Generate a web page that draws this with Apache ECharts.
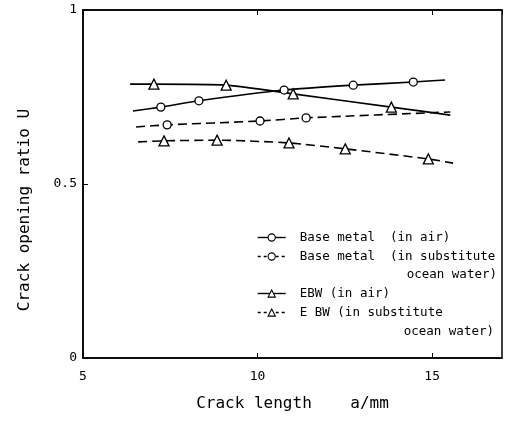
<!DOCTYPE html>
<html>
<head>
<meta charset="utf-8">
<script src="https://cdn.jsdelivr.net/npm/echarts@6/dist/echarts.min.js"></script>
<style>
html,body{margin:0;padding:0;background:#fff;}
#c{width:508px;height:422px;}
</style>
</head>
<body>
<div id="c"></div>
<script>
// ---- data ----
const xTicks = [5, 10, 15];
const yTicks = [0, 0.5, 1];

const baseAirX = [6.43, 7.23, 8.32, 10.76, 12.74, 14.46, 15.37];
const baseAirY = [0.710, 0.721, 0.739, 0.770, 0.784, 0.793, 0.799];
const baseAirMark = [0, 1, 1, 1, 1, 1, 0];

const baseWaterX = [6.52, 7.41, 10.07, 11.39, 15.52];
const baseWaterY = [0.664, 0.670, 0.681, 0.690, 0.707];
const baseWaterMark = [0, 1, 1, 1, 0];

const ebwAirX = [6.35, 7.03, 9.10, 11.02, 13.83, 15.52];
const ebwAirY = [0.787, 0.787, 0.784, 0.759, 0.721, 0.698];
const ebwAirMark = [0, 1, 1, 1, 1, 0];

const ebwWaterX = [6.58, 7.32, 8.84, 10.90, 12.51, 14.89, 15.60];
const ebwWaterY = [0.621, 0.624, 0.626, 0.618, 0.601, 0.572, 0.560];
const ebwWaterMark = [0, 1, 1, 1, 1, 1, 0];

const seriesNames = [
  'Base metal  (in air)',
  'Base metal  (in substitute ocean water)',
  'EBW (in air)',
  'EBW (in substitute ocean water)'
];
const seriesDashed = [false, true, false, true];
const legendFirstLines = {
  'Base metal  (in air)': 'Base metal  (in air)',
  'Base metal  (in substitute ocean water)': 'Base metal  (in substitute',
  'EBW (in air)': 'EBW (in air)',
  'EBW (in substitute ocean water)': 'E BW (in substitute'
};
const secondLine = 'ocean water)';

// ---- build ----
const FONT = 'DejaVu Sans Mono';
function build(xs, ys, marks) {
  return xs.map((x, i) => marks[i] ? [x, ys[i]] : { value: [x, ys[i]], symbol: 'none' });
}
function mk(name, xs, ys, marks, dashed, symbol) {
  return {
    name, type: 'line', xAxisIndex: 0, yAxisIndex: 0,
    data: build(xs, ys, marks),
    smooth: 0.2,
    symbol, symbolSize: symbol === 'circle' ? 8 : 10,
    showAllSymbol: true,
    lineStyle: { color: '#000', width: 1.6, type: dashed ? [9, 5] : 'solid' },
    itemStyle: { color: '#fff', borderColor: '#000', borderWidth: 1.3 },
    emphasis: { disabled: true },
    animation: false
  };
}
function legendItem(i) {
  return { name: seriesNames[i], lineStyle: { type: seriesDashed[i] ? [3, 3] : 'solid', width: 1.4, color: '#000' },
           itemStyle: { color: '#fff', borderColor: '#000', borderWidth: 1.1 } };
}

const chart = echarts.init(document.getElementById('c'), null, { renderer: 'canvas' });
const legendCommon = {
  orient: 'vertical', left: 257, padding: 0,
  itemWidth: 28, itemHeight: 9, itemGap: 6,
  formatter: n => legendFirstLines[n],
  textStyle: { fontFamily: FONT, fontSize: 12.5, color: '#000', padding: [0, 0, 0, 9] },
  selectedMode: false
};
chart.setOption({
  backgroundColor: '#fff',
  animation: false,
  grid: { left: 83, right: 6, top: 10, bottom: 64, show: true, borderColor: '#000', borderWidth: 1.5 },
  legend: [
    Object.assign({}, legendCommon, { top: 231, data: [legendItem(0), legendItem(1)] }),
    Object.assign({}, legendCommon, { top: 287, data: [legendItem(2), legendItem(3)] })
  ],
  graphic: [
    { type: 'text', right: 11, top: 268, style: { text: secondLine, font: '12.5px "' + FONT + '"', fill: '#000' } },
    { type: 'text', right: 14, top: 325, style: { text: secondLine, font: '12.5px "' + FONT + '"', fill: '#000' } }
  ],
  xAxis: [{
    type: 'value', min: 5, max: 17, interval: 5, position: 'bottom',
    name: 'Crack length    a/mm', nameLocation: 'middle', nameGap: 38,
    nameTextStyle: { fontFamily: FONT, fontSize: 16, color: '#000' },
    axisLine: { show: true, lineStyle: { color: '#000', width: 1.5 } },
    axisTick: { show: true, inside: true, length: 5, lineStyle: { color: '#000', width: 1 } },
    axisLabel: { fontFamily: FONT, fontSize: 13, color: '#000', margin: 12, showMaxLabel: false,
      formatter: v => xTicks.includes(v) ? String(v) : '' },
    splitLine: { show: false }
  }, {
    type: 'value', min: 5, max: 17, interval: 5, position: 'top',
    axisLine: { show: true, lineStyle: { color: '#000', width: 1.5 } },
    axisTick: { show: true, inside: true, length: 5, lineStyle: { color: '#000', width: 1 } },
    axisLabel: { show: false }, splitLine: { show: false }
  }],
  yAxis: [{
    type: 'value', min: 0, max: 1, interval: 0.5,
    name: 'Crack opening ratio U', nameLocation: 'middle', nameGap: 50, nameRotate: 90,
    nameTextStyle: { fontFamily: FONT, fontSize: 16, color: '#000', padding: [0, 52, 0, 0] },
    axisLine: { show: true, lineStyle: { color: '#000', width: 1.5 } },
    axisTick: { show: true, inside: true, length: 5, lineStyle: { color: '#000', width: 1 } },
    axisLabel: { fontFamily: FONT, fontSize: 13, color: '#000', margin: 6,
      formatter: v => yTicks.includes(v) ? String(v) : '' },
    splitLine: { show: false }
  }],
  series: [
    mk(seriesNames[0], baseAirX, baseAirY, baseAirMark, seriesDashed[0], 'circle'),
    mk(seriesNames[1], baseWaterX, baseWaterY, baseWaterMark, seriesDashed[1], 'circle'),
    mk(seriesNames[2], ebwAirX, ebwAirY, ebwAirMark, seriesDashed[2], 'triangle'),
    mk(seriesNames[3], ebwWaterX, ebwWaterY, ebwWaterMark, seriesDashed[3], 'triangle')
  ]
});
</script>
</body>
</html>
